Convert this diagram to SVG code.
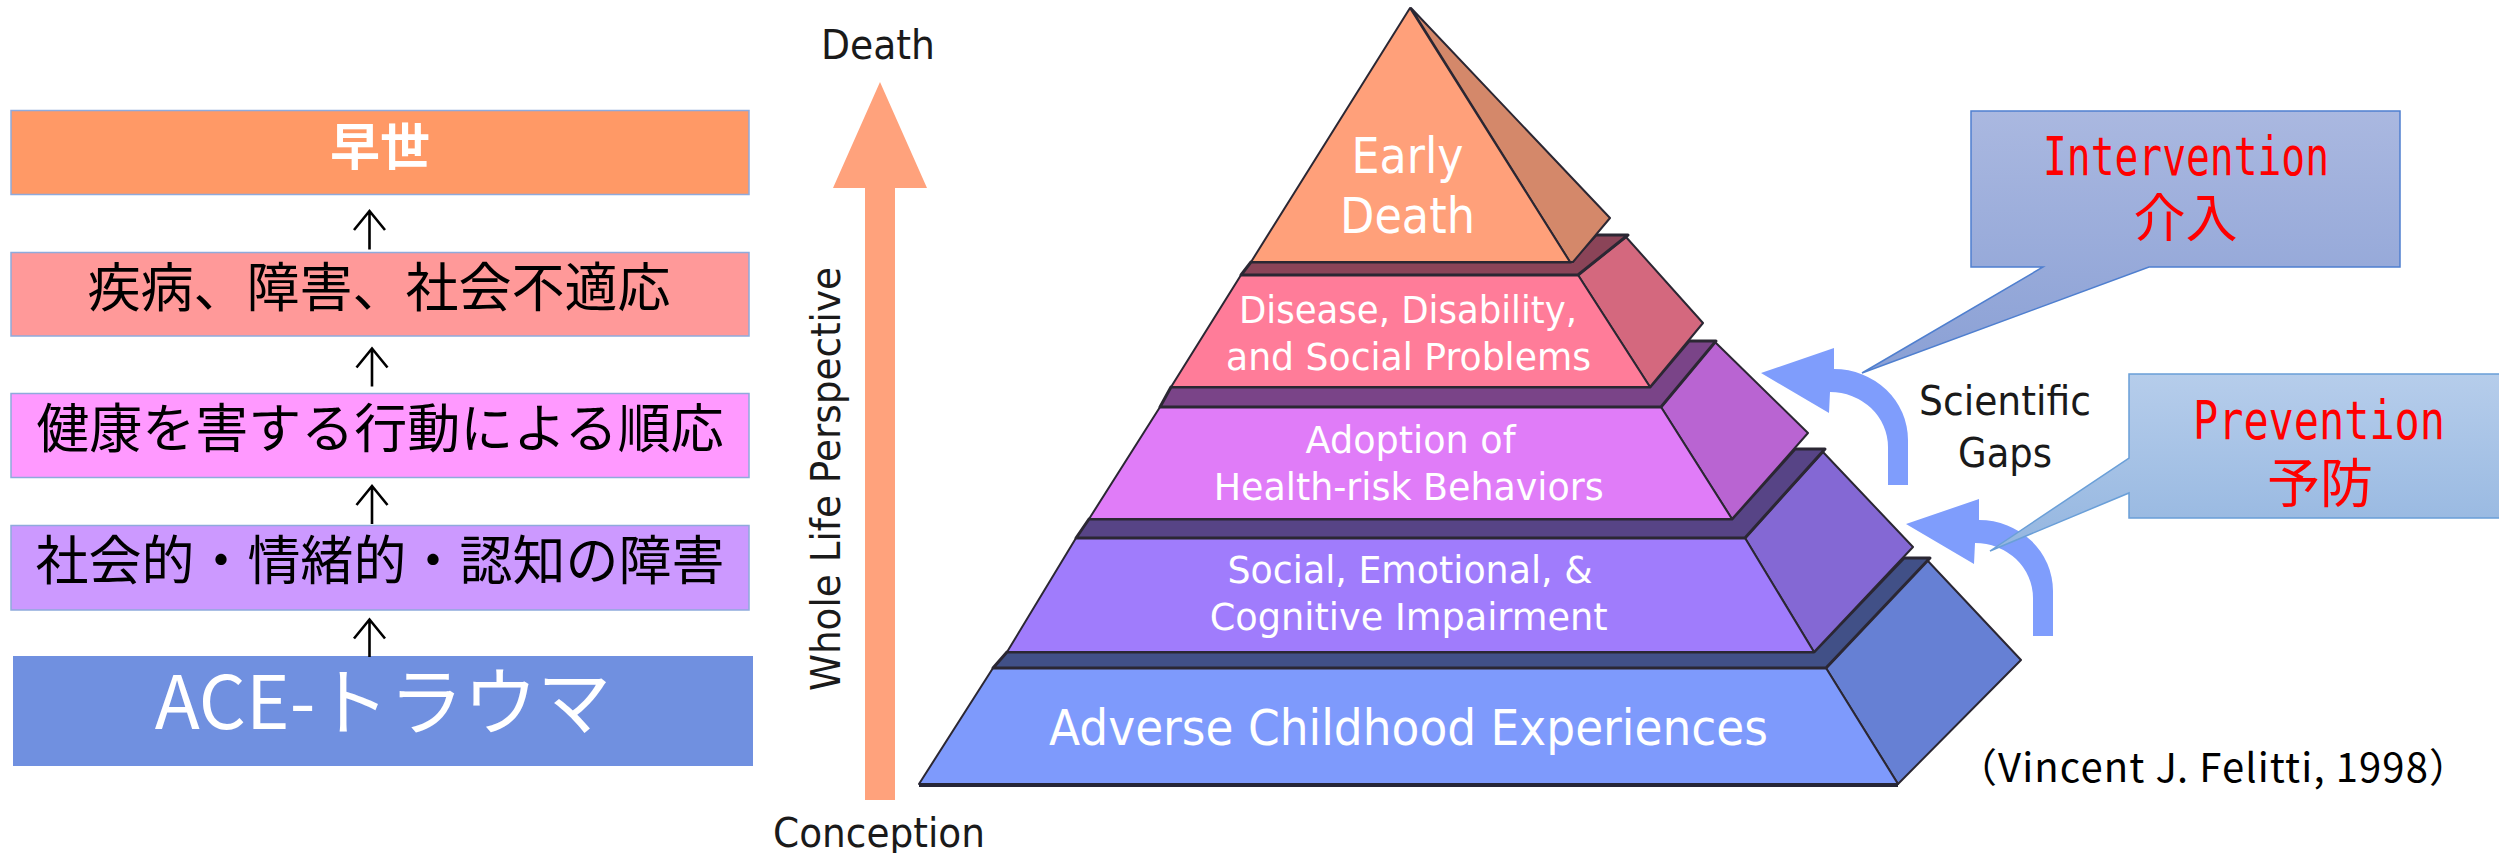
<svg xmlns="http://www.w3.org/2000/svg" width="2499" height="853" viewBox="0 0 2499 853">
<defs>
<style>
.jp{font-family:"Noto Sans CJK JP","Noto Sans CJK SC",sans-serif}
.box{stroke:#8FAADC;stroke-width:1.5}
.lbl{font-size:53px;fill:#000;text-anchor:middle}
.pt{font-family:"DejaVu Sans",sans-serif;fill:#fff;text-anchor:middle}
.ax{font-family:"DejaVu Sans",sans-serif;fill:#1a1a1a;font-size:40px}
.edge{stroke:#2b2733;stroke-width:2;stroke-linejoin:round}
.ledge{stroke-width:3}
.red{fill:#ff0000;text-anchor:middle}
.conn{fill:none;stroke:#000;stroke-width:2.6}
.gap{fill:#7F9DFC}
</style>
<linearGradient id="gInt" gradientUnits="userSpaceOnUse" x1="0" y1="111" x2="0" y2="373">
<stop offset="0" stop-color="#AAB8E0"/><stop offset="1" stop-color="#8AA0D5"/>
</linearGradient>
<linearGradient id="gPrev" gradientUnits="userSpaceOnUse" x1="0" y1="374" x2="0" y2="551">
<stop offset="0" stop-color="#B6CDEB"/><stop offset="1" stop-color="#94B6E0"/>
</linearGradient>
<path id="curl" d="M1761,373 L1834,348 L1834,369 A74,71 0 0 1 1908,440 L1908,485 L1888,485 L1888,447 A58,55 0 0 0 1830,392 L1829,413 Z"/>
</defs>

<rect width="2499" height="853" fill="#ffffff"/>

<!-- Left chain -->
<g id="node-hayase">
<rect class="box" x="11" y="110.5" width="738" height="84" fill="#FF9966"/>
<text class="jp" x="380" y="165" font-size="50" font-weight="700" fill="#ffffff" text-anchor="middle">早世</text>
</g>
<g id="node-disease">
<rect class="box" x="11" y="252.5" width="738" height="83.5" fill="#FF9999"/>
<text class="jp lbl" x="379" y="307">疾病、障害、社会不適応</text>
</g>
<g id="node-behavior">
<rect class="box" x="11" y="393.5" width="738" height="84" fill="#FF99FF"/>
<text class="jp lbl" x="380" y="448">健康を害する行動による順応</text>
</g>
<g id="node-impair">
<rect class="box" x="11" y="525.5" width="738" height="84.5" fill="#CC99FF"/>
<text class="jp lbl" x="380" y="580">社会的・情緒的・認知の障害</text>
</g>
<g id="node-ace">
<rect x="13" y="656" width="740" height="110" fill="#7090E0"/>
<text class="jp" x="383" y="729" font-size="74" fill="#ffffff" text-anchor="middle">ACE-トラウマ</text>
</g>

<g id="connectors">
<path class="conn" d="M369.5,249.5 V212 M354,230 L369.5,211 L385,230"/>
<path class="conn" d="M372,386.5 V349.5 M356.5,367.5 L372,348.5 L387.5,367.5"/>
<path class="conn" d="M372,524 V487 M356.5,505 L372,486 L387.5,505"/>
<path class="conn" d="M369.5,657 V620.5 M354,638.5 L369.5,619.5 L385,638.5"/>
</g>

<!-- Life axis -->
<g id="life-axis">
<polygon points="880,82 927,188 895,188 895,800 865,800 865,188 833,188" fill="#FFA27C"/>
<text class="ax" x="821" y="59" textLength="114" lengthAdjust="spacingAndGlyphs">Death</text>
<text class="ax" x="773" y="847" textLength="212" lengthAdjust="spacingAndGlyphs">Conception</text>
<text class="ax" font-size="37" transform="translate(840,691) rotate(-90)" x="0" y="0" textLength="424" lengthAdjust="spacingAndGlyphs">Whole Life Perspective</text>
</g>

<!-- Pyramid -->
<g id="tier-ace">
<polygon class="edge" points="1826,668 1927,560 2021,660 1898,784" fill="#6680D4"/>
<polygon class="edge" points="993,668 1826,668 1898,784 919,784" fill="#7E9AFC"/>
<line x1="919" y1="785" x2="1898" y2="785" stroke="#262637" stroke-width="4"/>
<text class="pt" x="1408.5" y="745" font-size="50" textLength="719" lengthAdjust="spacingAndGlyphs">Adverse Childhood Experiences</text>
</g>
<g id="tier-impairment">
<polygon class="edge ledge" points="1007,652 1814,652 1904,558 1930,558 1826,668 993,668" fill="#415087" stroke="#262a48"/>
<polygon class="edge" points="1745,538 1823,452 1913,547 1814,652" fill="#8468D4"/>
<polygon class="edge" points="1076,538 1745,538 1814,652 1007,652" fill="#A07CFC"/>
<text class="pt" x="1410" y="582.7" font-size="37" textLength="365" lengthAdjust="spacingAndGlyphs">Social, Emotional, &amp;</text>
<text class="pt" x="1408.7" y="630" font-size="37" textLength="398" lengthAdjust="spacingAndGlyphs">Cognitive Impairment</text>
</g>
<g id="tier-behaviors">
<polygon class="edge ledge" points="1089,519 1732,519 1795,449 1825,449 1745,538 1076,538" fill="#574486" stroke="#2a2245"/>
<polygon class="edge" points="1661,407 1715,342 1808,433 1732,519" fill="#B964D2"/>
<polygon class="edge" points="1160,407 1661,407 1732,519 1089,519" fill="#E07CF8"/>
<text class="pt" x="1410.6" y="453.3" font-size="37" textLength="210" lengthAdjust="spacingAndGlyphs">Adoption of</text>
<text class="pt" x="1408.7" y="500" font-size="37" textLength="390" lengthAdjust="spacingAndGlyphs">Health-risk Behaviors</text>
</g>
<g id="tier-disease">
<polygon class="edge ledge" points="1171,387 1650,387 1689,341 1716,341 1661,407 1160,407" fill="#7A4488" stroke="#3a2040"/>
<polygon class="edge" points="1578,275 1626,237 1703,323 1650,387" fill="#D4687E"/>
<polygon class="edge" points="1241,275 1578,275 1650,387 1171,387" fill="#FF7C99"/>
<text class="pt" x="1408" y="323.3" font-size="37" textLength="338" lengthAdjust="spacingAndGlyphs">Disease, Disability,</text>
<text class="pt" x="1408.5" y="370" font-size="37" textLength="365" lengthAdjust="spacingAndGlyphs">and Social Problems</text>
</g>
<g id="tier-early-death">
<polygon class="edge ledge" points="1251,262 1571,262 1596,235 1628,235 1578,275 1241,275" fill="#8B4458" stroke="#3b1a22"/>
<polygon class="edge" points="1411,8 1610,218 1573,262 1570,262" fill="#D4886A"/>
<polygon class="edge" points="1410,8 1570,262 1251,262" fill="#FFA07A"/>
<text class="pt" x="1407.5" y="173.3" font-size="50" textLength="112" lengthAdjust="spacingAndGlyphs">Early</text>
<text class="pt" x="1407.5" y="233.3" font-size="50" textLength="135" lengthAdjust="spacingAndGlyphs">Death</text>
</g>

<!-- Scientific gaps -->
<g id="gap-arrows">
<use href="#curl" class="gap"/>
<use href="#curl" class="gap" transform="translate(145,151)"/>
</g>
<g id="scientific-gaps">
<text class="ax" x="2005" y="415" font-size="41" text-anchor="middle" textLength="172" lengthAdjust="spacingAndGlyphs">Scientific</text>
<text class="ax" x="2005" y="466.7" font-size="41" text-anchor="middle" textLength="94" lengthAdjust="spacingAndGlyphs">Gaps</text>
</g>

<!-- Callouts -->
<g id="callout-intervention">
<path d="M1971,111 H2400 V267 H2149 L1862,373 L2043,267 H1971 Z" fill="url(#gInt)" stroke="#4F7FCF" stroke-width="1.5"/>
<text class="red" x="2186" y="175" font-family="DejaVu Sans Mono, monospace" font-size="54" textLength="286" lengthAdjust="spacingAndGlyphs">Intervention</text>
<text class="red jp" x="2185.5" y="237" font-size="52">介入</text>
</g>
<g id="callout-prevention">
<path d="M2129,374 H2512 V518 H2129 V493 L1990,551 L2129,458 Z" fill="url(#gPrev)" stroke="#6A9FD8" stroke-width="1.5"/>
<text class="red" x="2319" y="439.3" font-family="DejaVu Sans Mono, monospace" font-size="54" textLength="252" lengthAdjust="spacingAndGlyphs">Prevention</text>
<text class="red jp" x="2320" y="503" font-size="53">予防</text>
</g>

<g id="citation">
<text class="jp" x="2213" y="782" font-size="40" fill="#000" text-anchor="middle" textLength="512" lengthAdjust="spacing">（Vincent J. Felitti, 1998）</text>
</g>
</svg>
